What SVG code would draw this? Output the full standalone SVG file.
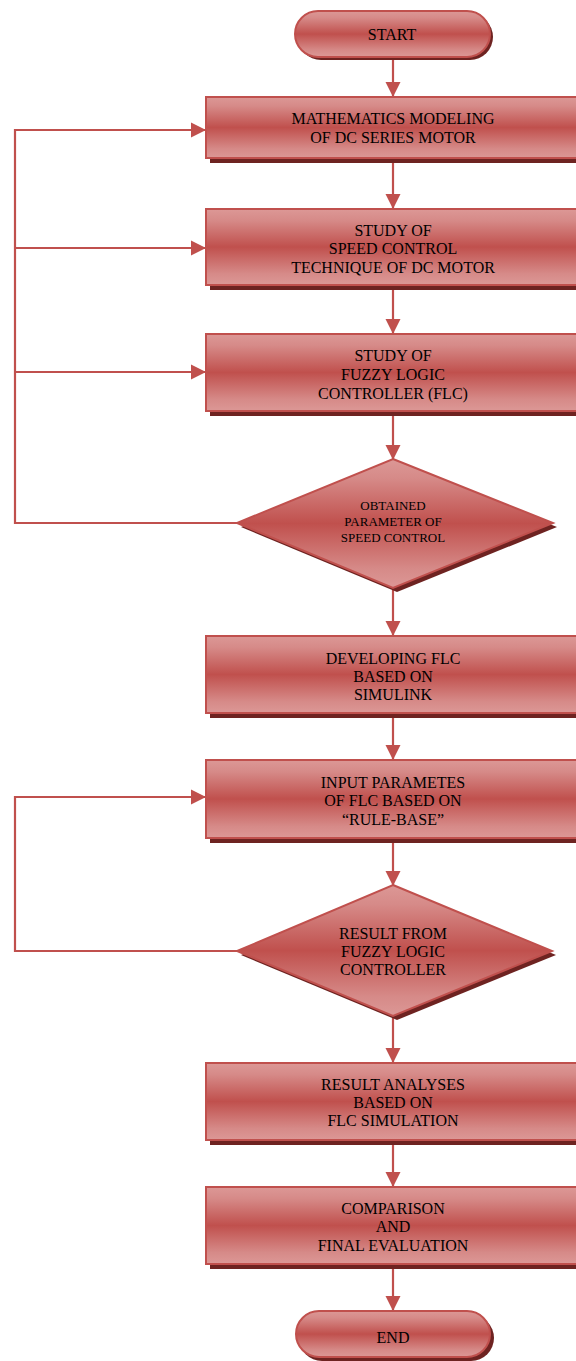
<svg xmlns="http://www.w3.org/2000/svg" width="576" height="1361" viewBox="0 0 576 1361">
<defs>
<linearGradient id="g" x1="0" y1="0" x2="0" y2="1">
<stop offset="0" stop-color="#dc9896"/>
<stop offset="0.15" stop-color="#d68a88"/>
<stop offset="0.5" stop-color="#c0504d"/>
<stop offset="0.85" stop-color="#d68a88"/>
<stop offset="1" stop-color="#dc9896"/>
</linearGradient>
<marker id="ah" markerUnits="userSpaceOnUse" markerWidth="16" markerHeight="16" viewBox="0 0 16 16" refX="15" refY="8" orient="auto">
<path d="M0,0.5 L15,8 L0,15.5 Z" fill="#c0504d"/>
</marker>
<style>
.sh{fill:#6e2321}
.nd{fill:url(#g);stroke:#c0504d;stroke-width:2}
.t{font-family:"Liberation Serif","Times New Roman",serif;font-size:16px;fill:#000;text-anchor:middle}
.ts{font-size:13px}
.c{fill:none;stroke:#c0504d;stroke-width:2.2}
</style>
</defs>
<g id="connectors">
<line class="c" x1="393" y1="57" x2="393" y2="97" marker-end="url(#ah)"/>
<line class="c" x1="393" y1="162" x2="393" y2="209" marker-end="url(#ah)"/>
<line class="c" x1="393" y1="289" x2="393" y2="334" marker-end="url(#ah)"/>
<line class="c" x1="393" y1="415" x2="393" y2="460" marker-end="url(#ah)"/>
<line class="c" x1="393" y1="590" x2="393" y2="636" marker-end="url(#ah)"/>
<line class="c" x1="393" y1="717" x2="393" y2="760" marker-end="url(#ah)"/>
<line class="c" x1="393" y1="842" x2="393" y2="886" marker-end="url(#ah)"/>
<line class="c" x1="393" y1="1018" x2="393" y2="1063" marker-end="url(#ah)"/>
<line class="c" x1="393" y1="1144" x2="393" y2="1187" marker-end="url(#ah)"/>
<line class="c" x1="393" y1="1268" x2="393" y2="1311" marker-end="url(#ah)"/>
<path class="c" d="M238,523 H15 V130 H206" marker-end="url(#ah)"/>
<path class="c" d="M15,248 H206" marker-end="url(#ah)"/>
<path class="c" d="M15,372 H206" marker-end="url(#ah)"/>
<path class="c" d="M237,951 H15 V797 H206" marker-end="url(#ah)"/>
</g>
<g id="start">
<rect class="sh" x="298" y="14" width="195" height="46" rx="23"/>
<rect class="nd" x="295" y="11" width="195" height="46" rx="23"/>
<text class="t" x="392" y="40">START</text>
</g>
<g id="box1">
<rect class="sh" x="210" y="101" width="373" height="62"/>
<rect class="nd" x="206" y="97" width="373" height="61"/>
<text class="t" x="393" y="124">MATHEMATICS MODELING</text>
<text class="t" x="393" y="143">OF DC SERIES MOTOR</text>
</g>
<g id="box2">
<rect class="sh" x="210" y="213" width="373" height="77"/>
<rect class="nd" x="206" y="209" width="373" height="76"/>
<text class="t" x="393" y="236">STUDY OF</text>
<text class="t" x="393" y="254">SPEED CONTROL</text>
<text class="t" x="393" y="273">TECHNIQUE OF DC MOTOR</text>
</g>
<g id="box3">
<rect class="sh" x="210" y="338" width="373" height="78"/>
<rect class="nd" x="206" y="334" width="373" height="77"/>
<text class="t" x="393" y="361">STUDY OF</text>
<text class="t" x="393" y="380">FUZZY LOGIC</text>
<text class="t" x="393" y="399">CONTROLLER (FLC)</text>
</g>
<g id="decision1">
<polygon class="sh" points="397,463 557,527 397,592 241,527"/>
<polygon class="nd" points="393,459 553,523 393,588 237,523"/>
<text class="t ts" x="393" y="510">OBTAINED</text>
<text class="t ts" x="393" y="526">PARAMETER OF</text>
<text class="t ts" x="393" y="542">SPEED CONTROL</text>
</g>
<g id="box4">
<rect class="sh" x="210" y="640" width="373" height="78"/>
<rect class="nd" x="206" y="636" width="373" height="77"/>
<text class="t" x="393" y="664">DEVELOPING FLC</text>
<text class="t" x="393" y="682">BASED ON</text>
<text class="t" x="393" y="700">SIMULINK</text>
</g>
<g id="box5">
<rect class="sh" x="210" y="764" width="373" height="79"/>
<rect class="nd" x="206" y="760" width="373" height="78"/>
<text class="t" x="393" y="788">INPUT PARAMETES</text>
<text class="t" x="393" y="806">OF FLC BASED ON</text>
<text class="t" x="393" y="825">“RULE-BASE”</text>
</g>
<g id="decision2">
<polygon class="sh" points="397,889 556,955 397,1020 241,955"/>
<polygon class="nd" points="393,885 552,951 393,1016 237,951"/>
<text class="t" x="393" y="939">RESULT FROM</text>
<text class="t" x="393" y="957">FUZZY LOGIC</text>
<text class="t" x="393" y="975">CONTROLLER</text>
</g>
<g id="box6">
<rect class="sh" x="210" y="1067" width="373" height="78"/>
<rect class="nd" x="206" y="1063" width="373" height="77"/>
<text class="t" x="393" y="1090">RESULT ANALYSES</text>
<text class="t" x="393" y="1108">BASED ON</text>
<text class="t" x="393" y="1126">FLC SIMULATION</text>
</g>
<g id="box7">
<rect class="sh" x="210" y="1191" width="373" height="78"/>
<rect class="nd" x="206" y="1187" width="373" height="77"/>
<text class="t" x="393" y="1214">COMPARISON</text>
<text class="t" x="393" y="1232">AND</text>
<text class="t" x="393" y="1251">FINAL EVALUATION</text>
</g>
<g id="end">
<rect class="sh" x="299" y="1315" width="195" height="46" rx="23"/>
<rect class="nd" x="296" y="1311" width="194" height="46" rx="23"/>
<text class="t" x="393" y="1343">END</text>
</g>
</svg>
